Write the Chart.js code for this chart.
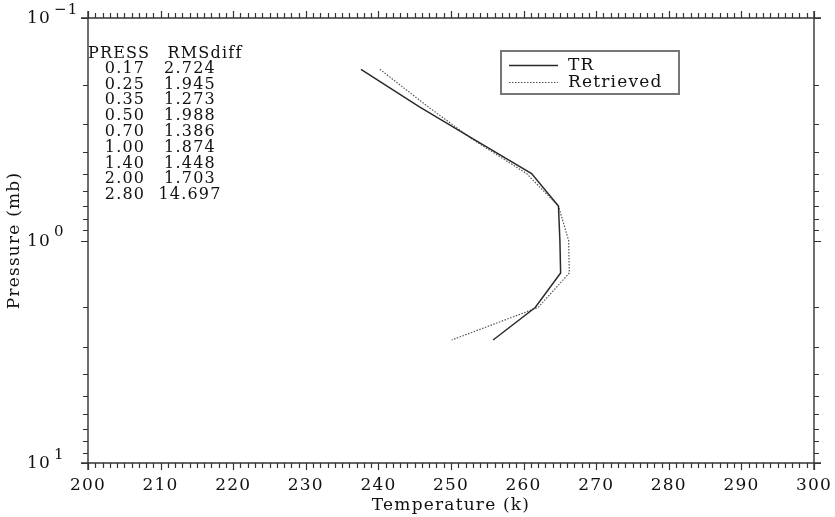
<!DOCTYPE html>
<html>
<head>
<meta charset="utf-8">
<script src="https://cdn.jsdelivr.net/npm/chart.js@4/dist/chart.umd.min.js"></script>
<style>
  html, body { margin: 0; padding: 0; background: #fff; }
  #wrap { width: 835px; height: 517px; }
</style>
</head>
<body>
<div id="wrap"><canvas id="c" width="835" height="517"></canvas></div>
<script>
// Pressure levels (mb) and temperature profiles (K)
const pressureLevels = [0.17, 0.25, 0.35, 0.50, 0.70, 1.00, 1.40, 2.00, 2.80];
const tempTR         = [237.6, 245.6, 253.1, 261.1, 264.8, 265.0, 265.1, 261.6, 255.8];
const tempRetrieved  = [240.2, 246.8, 252.9, 260.4, 264.8, 266.2, 266.3, 262.0, 250.1];

// Table of RMS differences per level
const pressLabels = ['0.17', '0.25', '0.35', '0.50', '0.70', '1.00', '1.40', '2.00', '2.80'];
const rmsDiff     = ['2.724', '1.945', '1.273', '1.988', '1.386', '1.874', '1.448', '1.703', '14.697'];

// Axis ranges and tick values
const xMin = 200, xMax = 300, xMajorStep = 10, xMinorStep = 1;
const yDecades   = [0.1, 1, 10];
const yExponents = ['\u22121', '0', '1'];
const yMinorMult = [2, 3, 4, 5, 6, 7, 8, 9];

const FONT = "'DejaVu Serif', 'Liberation Serif', serif";
const INK = '#111';

function profile(temps) {
  return pressureLevels.map((p, i) => ({ x: temps[i], y: p }));
}

// Frame, tick marks, exponent labels, RMS table and legend box
const decorations = {
  id: 'decorations',
  beforeDraw(chart) {
    chart.ctx.letterSpacing = '1.2px';
  },
  afterDraw(chart) {
    const ctx = chart.ctx;
    const a = chart.chartArea;
    const xs = chart.scales.x, ys = chart.scales.y;
    ctx.save();
    ctx.strokeStyle = '#333';
    ctx.lineWidth = 1.4;
    ctx.lineCap = 'butt';
    const ext = 7;
    ctx.beginPath();
    ctx.moveTo(a.left - ext, a.bottom); ctx.lineTo(a.right + ext, a.bottom);
    ctx.moveTo(a.left - ext, a.top);    ctx.lineTo(a.right + ext, a.top);
    ctx.moveTo(a.left, a.top - ext);    ctx.lineTo(a.left, a.bottom + ext);
    ctx.moveTo(a.right, a.top - ext);   ctx.lineTo(a.right, a.bottom + ext);
    ctx.stroke();

    // x ticks, pointing outward on bottom and top
    ctx.lineWidth = 1.2;
    ctx.beginPath();
    for (let v = xMin; v <= xMax + 1e-9; v += xMinorStep) {
      const px = Math.round(xs.getPixelForValue(v)) + 0.5;
      const len = (Math.round(v) % xMajorStep === 0) ? 7 : 5;
      ctx.moveTo(px, a.bottom); ctx.lineTo(px, a.bottom + len);
      ctx.moveTo(px, a.top);    ctx.lineTo(px, a.top - len);
    }
    // y ticks (log), pointing outward on left and right
    const yTicks = [];
    yDecades.forEach((d, i) => {
      yTicks.push([d, 7]);
      if (i < yDecades.length - 1) yMinorMult.forEach(m => yTicks.push([d * m, 5]));
    });
    yTicks.forEach(([v, len]) => {
      const py = Math.round(ys.getPixelForValue(v)) + 0.5;
      ctx.moveTo(a.left, py);  ctx.lineTo(a.left - len, py);
      ctx.moveTo(a.right, py); ctx.lineTo(a.right + len, py);
    });
    ctx.stroke();

    // y decade labels with raised exponents
    ctx.fillStyle = INK;
    ctx.textBaseline = 'middle';
    yDecades.forEach((d, i) => {
      const py = ys.getPixelForValue(d);
      ctx.font = '17px ' + FONT;
      ctx.textAlign = 'right';
      ctx.fillText('10', a.left - 37, py + 1);
      ctx.font = '15px ' + FONT;
      ctx.textAlign = 'left';
      ctx.fillText(yExponents[i], a.left - 34, py - 8);
    });

    // RMS difference table
    ctx.font = '16px ' + FONT;
    ctx.textAlign = 'center';
    const rowTop = a.top + 36, rowStep = 15.8;
    ctx.fillText('PRESS', a.left + 31, rowTop);
    ctx.fillText('RMSdiff', a.left + 117, rowTop);
    pressLabels.forEach((lab, i) => {
      const y = rowTop + 14.6 + rowStep * i;
      ctx.fillText(lab, a.left + 37, y);
      ctx.fillText(rmsDiff[i], a.left + 102, y);
    });

    // Legend box
    const bx = a.left + 413, by = a.top + 33, bw = 178, bh = 43;
    ctx.fillStyle = '#fff';
    ctx.fillRect(bx, by, bw, bh);
    ctx.strokeStyle = '#777';
    ctx.lineWidth = 2;
    ctx.strokeRect(bx, by, bw, bh);
    chart.data.datasets.forEach((ds, i) => {
      const y = by + 14 + i * 17;
      ctx.strokeStyle = ds.borderColor;
      ctx.lineWidth = ds.borderWidth;
      ctx.setLineDash(ds.borderDash || []);
      ctx.beginPath();
      ctx.moveTo(bx + 8, y + 0.5); ctx.lineTo(bx + 57, y + 0.5);
      ctx.stroke();
      ctx.setLineDash([]);
      ctx.fillStyle = INK;
      ctx.font = '17px ' + FONT;
      ctx.textAlign = 'left';
      ctx.fillText(ds.label, bx + 67, y + 1);
    });
    ctx.restore();
  }
};

new Chart(document.getElementById('c'), {
  type: 'line',
  data: {
    datasets: [
      {
        label: 'TR',
        data: profile(tempTR),
        borderColor: '#2a2a2a',
        borderWidth: 1.5,
        pointRadius: 0,
        tension: 0,
        fill: false
      },
      {
        label: 'Retrieved',
        data: profile(tempRetrieved),
        borderColor: '#555',
        borderWidth: 1.2,
        borderDash: [1.5, 1.5],
        pointRadius: 0,
        tension: 0,
        fill: false
      }
    ]
  },
  options: {
    responsive: false,
    animation: false,
    devicePixelRatio: 1,
    layout: { padding: { top: 18, right: 21, left: 0, bottom: 0 } },
    plugins: { legend: { display: false }, tooltip: { enabled: false } },
    scales: {
      x: {
        type: 'linear',
        position: 'bottom',
        min: xMin,
        max: xMax,
        grid: { display: false, drawTicks: false },
        border: { display: false },
        ticks: {
          stepSize: xMajorStep,
          autoSkip: false,
          maxRotation: 0,
          padding: 12,
          color: INK,
          font: { family: FONT, size: 17 }
        },
        title: {
          display: true,
          text: 'Temperature (k)',
          color: INK,
          font: { family: FONT, size: 17 },
          padding: { top: 0, bottom: 1 }
        },
        afterFit(scale) {
          scale.height = 54;
          scale.paddingLeft = 0;
          scale.paddingRight = 0;
        }
      },
      y: {
        type: 'logarithmic',
        position: 'left',
        min: yDecades[0],
        max: yDecades[yDecades.length - 1],
        reverse: true,
        grid: { display: false, drawTicks: false },
        border: { display: false },
        ticks: { display: false },
        title: {
          display: true,
          text: 'Pressure (mb)',
          color: INK,
          font: { family: FONT, size: 17 },
          padding: { top: 4, bottom: 0 }
        },
        afterFit(scale) {
          scale.width = 88;
          scale.paddingTop = 0;
          scale.paddingBottom = 0;
        }
      }
    }
  },
  plugins: [decorations]
});
</script>
</body>
</html>
